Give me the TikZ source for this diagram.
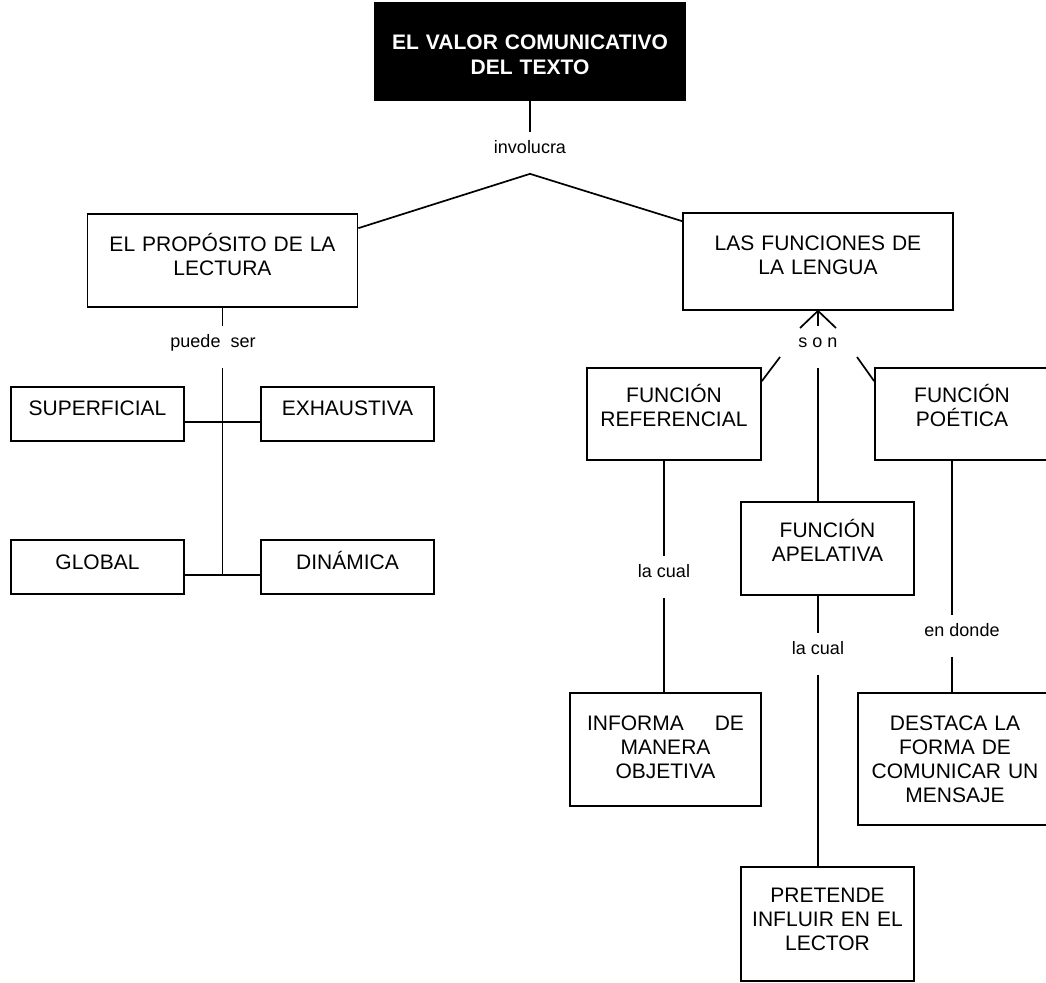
\documentclass[tikz,border=0pt]{standalone}
\usepackage{fontspec}
\setmainfont{Liberation Sans}
\usetikzlibrary{calc}
\begin{document}
\begin{tikzpicture}[x=1pt,y=-1pt,line width=1.7pt,
  box/.style={draw=black,line width=1.7pt,rectangle,inner sep=0pt},
  boxtext/.style={anchor=base,align=center,inner sep=0pt,text width=#1,
    font=\fontsize{21}{24}\selectfont},
  titletext/.style={boxtext=#1,text=white,font=\fontsize{21}{24.5}\selectfont\bfseries},
  lab/.style={inner sep=0pt,text height=6pt,text depth=6pt,minimum height=40pt,
    font=\fontsize{18}{20}\selectfont}]
\useasboundingbox (0,0) rectangle (1046,982);

% title
\node[box,fill=black,minimum width=310pt,minimum height=97pt] (valor) at (530,51.5) {};
\node[titletext=300pt] (valortx) at (530,50) {EL VALOR COMUNICATIVO\\DEL TEXTO};

% first level
\node[box,minimum width=270pt,minimum height=92.7pt] (prop) at (222.5,260.35) {};
\node[boxtext=260pt] (proptx) at (222.5,251) {EL PROPÓSITO DE LA\\LECTURA};
\node[box,minimum width=270pt,minimum height=97pt] (func) at (818,261.5) {};
\node[boxtext=260pt] (functx) at (818,250.5) {LAS FUNCIONES DE\\LA LENGUA};

% kinds of reading
\node[box,minimum width=173pt,minimum height=54pt] (sup) at (97.5,414) {};
\node[boxtext=165pt] (suptx) at (97.5,415.5) {SUPERFICIAL};
\node[box,minimum width=173pt,minimum height=54pt] (exh) at (347.5,414) {};
\node[boxtext=165pt] (exhtx) at (347.5,415.5) {EXHAUSTIVA};
\node[box,minimum width=173pt,minimum height=54pt] (glob) at (97.5,567) {};
\node[boxtext=165pt] (globtx) at (97.5,569.5) {GLOBAL};
\node[box,minimum width=173pt,minimum height=54pt] (din) at (347.5,567) {};
\node[boxtext=165pt] (dintx) at (347.5,569.5) {DINÁMICA};

% language functions
\node[box,minimum width=174pt,minimum height=92pt] (ref) at (674,414) {};
\node[boxtext=166pt] (reftx) at (674,402.5) {FUNCIÓN\\REFERENCIAL};
\node[box,minimum width=174pt,minimum height=92pt] (poet) at (962,414) {};
\node[boxtext=166pt] (poettx) at (962,402.5) {FUNCIÓN\\POÉTICA};
\node[box,minimum width=173pt,minimum height=93pt] (apel) at (827.5,548.5) {};
\node[boxtext=165pt] (apeltx) at (827.5,537.5) {FUNCIÓN\\APELATIVA};

% descriptions
\node[box,minimum width=191pt,minimum height=113pt] (info) at (665.5,749.5) {};
\node[boxtext=183pt] (infotx) at (665.5,730) {\hbox to 157pt{INFORMA\hfill DE}\\MANERA\\OBJETIVA};
\node[box,minimum width=194pt,minimum height=132pt] (dest) at (955,759) {};
\node[boxtext=186pt] (desttx) at (955,730) {DESTACA LA\\FORMA DE\\COMUNICAR UN\\MENSAJE};
\node[box,minimum width=173pt,minimum height=114pt] (pret) at (827.5,924) {};
\node[boxtext=165pt] (prettx) at (827.5,902.5) {PRETENDE\\INFLUIR EN EL\\LECTOR};

% link words
\node[lab] (invol) at (530,153) {involucra};
\node[lab] (puede) at (213,347) {puede\ \ ser};
\node[lab] (son) at (818,347) {s o n};
\node[lab] (cual1) at (664,577) {la cual};
\node[lab] (cual2) at (818,654) {la cual};
\node[lab] (donde) at (962,636) {en donde};

% connectors
\draw (valor.south) -- (invol.north);
\draw ($(prop.north east)+(0,15)$) -- (invol.south) -- ($(func.north west)+(0,9)$);

\draw (prop.south) -- (prop.south |- puede.north);
\draw (prop.south |- puede.south) -- ($(prop.south |- din.west)+(0,8)$);
\draw ($(sup.east)+(0,8)$) -- ($(exh.west)+(0,8)$);
\draw ($(glob.east)+(0,8)$) -- ($(din.west)+(0,8)$);

\coordinate (sonNW) at (800,328);
\coordinate (sonNE) at (836,328);
\coordinate (sonSW) at (780,357);
\coordinate (sonSE) at (857,357);
\draw (sonNW) -- (func.south) -- (sonNE);
\draw (func.south) -- (son.north);
\draw (sonSW) -- ($(ref.north east)+(0,14)$);
\draw (sonSE) -- ($(poet.north west)+(0,14)$);
\draw (son.south) -- (son.south |- apel.north);

\draw (cual1.north |- ref.south) -- (cual1.north);
\draw (cual1.south) -- (cual1.south |- info.north);
\draw (cual2.north |- apel.south) -- (cual2.north);
\draw (cual2.south) -- (cual2.south |- pret.north);
\draw ([xshift=-10pt]donde.north |- poet.south) -- ([xshift=-10pt]donde.north);
\draw ([xshift=-10pt]donde.south) -- ([xshift=-10pt]donde.south |- dest.north);
\end{tikzpicture}
\end{document}
